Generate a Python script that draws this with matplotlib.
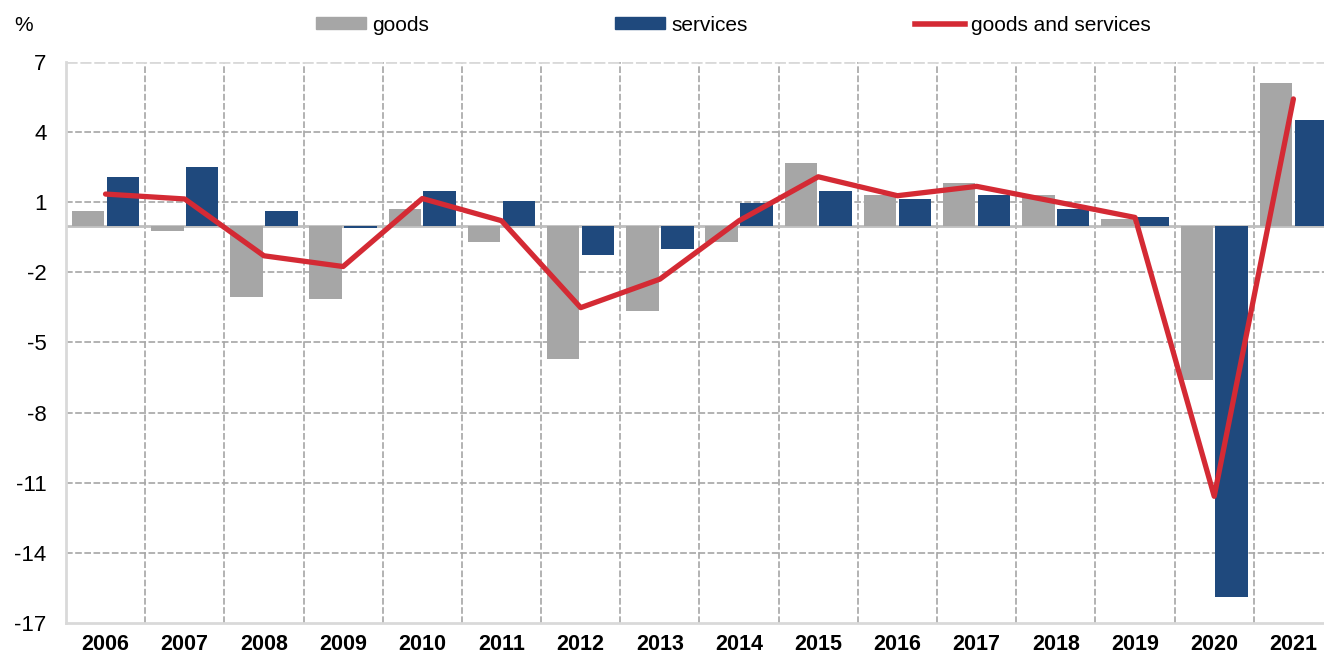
import numpy as np
import matplotlib
matplotlib.use("Agg")
import matplotlib.pyplot as plt
from matplotlib.patches import Patch
from matplotlib.lines import Line2D

plt.rcParams['font.family'] = ['Liberation Sans', 'DejaVu Sans']

years = [str(y) for y in range(2006, 2022)]
goods = [0.61, -0.22, -3.04, -3.12, 0.71, -0.72, -5.69, -3.65, -0.72, 2.66,
         1.31, 1.81, 1.31, 0.28, -6.62, 6.09]
services = [2.07, 2.49, 0.61, -0.12, 1.47, 1.04, -1.25, -1.01, 0.95, 1.47,
            1.14, 1.31, 0.71, 0.36, -15.87, 4.53]
total = [1.35, 1.14, -1.29, -1.75, 1.16, 0.21, -3.51, -2.29, 0.21, 2.09,
         1.28, 1.68, 1.02, 0.35, -11.58, 5.42]
yticks = [7, 4, 1, -2, -5, -8, -11, -14, -17]

c_goods = '#A6A6A6'
c_serv = '#1F497D'
c_red = '#D42A34'
grid_c = '#A6A6A6'

fig = plt.figure(figsize=(13.24, 6.61), dpi=100)
ax = fig.add_axes([0.0498, 0.0575, 0.957, 0.8487])

x = np.arange(len(years))
w = 0.41
ax.bar(x - 0.22, goods, w, color=c_goods, zorder=3)
ax.bar(x + 0.22, services, w, color=c_serv, zorder=3)
ax.plot(x, total, color=c_red, lw=3.8, zorder=4, solid_capstyle='round')

ax.set_xlim(-0.5, len(years) - 0.5)
ax.set_ylim(-17, 7)

# dashed grid
for yv in yticks:
    if yv in (7, -17):
        continue
    ax.axhline(yv, color=grid_c, lw=1.2, ls=(0, (4, 1.5)), zorder=1)
for xb in np.arange(0.5, len(years) - 0.5, 1):
    ax.axvline(xb, color=grid_c, lw=1.2, ls=(0, (4, 1.5)), zorder=1)
ax.axhline(0, color='#BFBFBF', lw=2, zorder=2)
ax.axhline(7, color='#D9D9D9', lw=2, ls=(0, (4, 1)), zorder=1)

for s in ['top', 'right']:
    ax.spines[s].set_visible(False)
ax.spines['left'].set_color('#D9D9D9')
ax.spines['left'].set_linewidth(2)
ax.spines['bottom'].set_color('#D9D9D9')
ax.spines['bottom'].set_linewidth(2)

ax.set_yticks(yticks)
ax.set_yticklabels([str(v) for v in yticks], fontsize=16)
ax.set_xticks(x)
ax.set_xticklabels(years, fontsize=15.5, fontweight='bold')
ax.tick_params(length=0)
ax.tick_params(axis='x', pad=8)
ax.tick_params(axis='y', pad=14)

fig.text(0.011, 0.962, '%', fontsize=15, va='center', ha='left')

handles = [Patch(color=c_goods), Patch(color=c_serv), Line2D([], [], color=c_red, lw=4)]
labels = ['goods', 'services', 'goods and services']
xs = [0.2385, 0.4645, 0.691]
for h, lab, xp in zip(handles, labels, xs):
    fig.legend([h], [lab], loc='center left', bbox_to_anchor=(xp, 0.962),
               frameon=False, fontsize=15, handlelength=2.4, handleheight=0.5,
               handletextpad=0.3, borderaxespad=0, borderpad=0)

fig.savefig('out.png', dpi=100)
